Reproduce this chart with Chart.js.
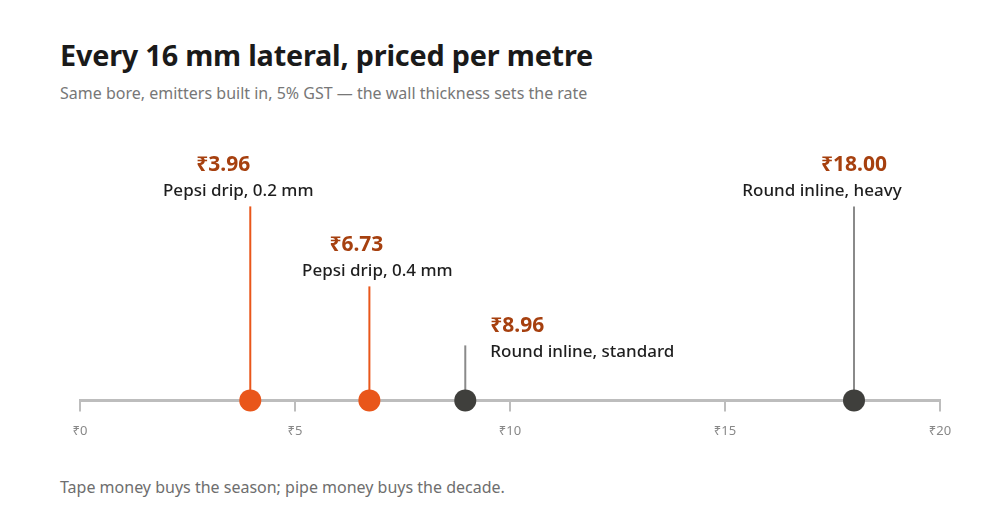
<!DOCTYPE html>
<html lang="en">
<head>
    <meta charset="UTF-8">
    <title>16 mm lateral prices</title>
    <script src="https://cdn.jsdelivr.net/npm/chart.js"></script>
    <style>
        html, body { margin: 0; padding: 0; background: #fff; }
        body {
            width: 1000px;
            height: 520px;
            position: relative;
            font-family: 'Noto Sans', 'DejaVu Sans', sans-serif;
            overflow: hidden;
        }
        h1 {
            position: absolute;
            left: 60px;
            top: 35px;
            margin: 0;
            font-size: 28.8px;
            font-weight: 700;
            color: #1a1a1a;
            letter-spacing: -0.2px;
        }
        .sub {
            position: absolute;
            left: 60px;
            top: 82px;
            margin: 0;
            font-size: 16px;
            color: #777;
        }
        .foot {
            position: absolute;
            left: 60px;
            top: 476px;
            margin: 0;
            font-size: 16px;
            color: #6e6e6e;
        }
        .chart-box {
            position: absolute;
            left: 0;
            top: 120px;
            width: 1000px;
            height: 331px;
        }
    </style>
</head>
<body>
    <h1>Every 16 mm lateral, priced per metre</h1>
    <p class="sub">Same bore, emitters built in, 5% GST — the wall thickness sets the rate</p>
    <div class="chart-box"><canvas id="chart"></canvas></div>
    <p class="foot">Tape money buys the season; pipe money buys the decade.</p>

    <script>
        // price per metre, rupees
        const products = ['Pepsi drip, 0.2 mm', 'Pepsi drip, 0.4 mm', 'Round inline, standard', 'Round inline, heavy'];
        const prices = [3.96, 6.73, 8.96, 18.00];
        const isTape = [true, true, false, false];
        const xTicks = [0, 5, 10, 15, 20];

        // label layout: stem height tier, label beside the stem or above it, and small nudges
        const tier = [3, 2, 1, 3];
        const beside = [false, false, true, false];
        const tierHeight = { 1: 55, 2: 114, 3: 194 };
        const priceNudge = [-27, -13, 0, 0];
        const nameNudge = [-12, 8, 0, -32];

        const ORANGE = '#e9561a';
        const DARK = '#3f3f3c';
        const PRICE_TXT = '#a6400f';

        const stemsAndLabels = {
            id: 'stemsAndLabels',
            beforeDatasetsDraw(chart) {
                const ctx = chart.ctx;
                const x = chart.scales.x, y = chart.scales.y;
                ctx.save();
                prices.forEach((p, i) => {
                    const px = x.getPixelForValue(p);
                    const base = y.getPixelForValue(0);
                    ctx.strokeStyle = isTape[i] ? ORANGE : '#8a8a8a';
                    ctx.lineWidth = 2;
                    ctx.beginPath();
                    ctx.moveTo(px, base);
                    ctx.lineTo(px, base - tierHeight[tier[i]]);
                    ctx.stroke();
                });
                ctx.restore();
            },
            afterDatasetsDraw(chart) {
                const ctx = chart.ctx;
                const x = chart.scales.x, y = chart.scales.y;
                ctx.save();
                ctx.textBaseline = 'middle';
                prices.forEach((p, i) => {
                    const px = x.getPixelForValue(p);
                    const top = y.getPixelForValue(0) - tierHeight[tier[i]];
                    let tx, nameY;
                    if (beside[i]) {
                        ctx.textAlign = 'left';
                        tx = px + 25;
                        nameY = top + 7;
                    } else {
                        ctx.textAlign = 'center';
                        tx = px;
                        nameY = top - 15;
                    }
                    ctx.fillStyle = PRICE_TXT;
                    ctx.font = "700 21px 'Noto Sans', 'DejaVu Sans', sans-serif";
                    ctx.fillText('₹' + p.toFixed(2), tx + priceNudge[i], nameY - 26);
                    ctx.fillStyle = '#1e1e1e';
                    ctx.font = "500 17px 'Noto Sans', 'DejaVu Sans', sans-serif";
                    ctx.fillText(products[i], tx + nameNudge[i], nameY);
                });
                ctx.restore();
            }
        };

        new Chart(document.getElementById('chart'), {
            type: 'scatter',
            data: {
                datasets: [{
                    data: prices.map(p => ({ x: p, y: 0 })),
                    backgroundColor: isTape.map(t => t ? ORANGE : DARK),
                    borderWidth: 0,
                    pointRadius: 11,
                    pointHoverRadius: 11,
                    clip: false
                }]
            },
            options: {
                responsive: true,
                maintainAspectRatio: false,
                animation: false,
                layout: { padding: { left: 80, right: 60, top: 0, bottom: 0 } },
                plugins: {
                    legend: { display: false },
                    tooltip: { enabled: false }
                },
                scales: {
                    x: {
                        type: 'linear',
                        min: 0,
                        max: 20,
                        afterBuildTicks: axis => { axis.ticks = xTicks.map(v => ({ value: v })); },
                        grid: {
                            drawOnChartArea: false,
                            drawTicks: true,
                            tickLength: 11,
                            color: '#bdbdbd',
                            lineWidth: 2
                        },
                        border: { color: '#bdbdbd', width: 3 },
                        ticks: {
                            padding: 12,
                            color: '#888',
                            font: { family: "'Noto Sans', 'DejaVu Sans', sans-serif", size: 13 },
                            callback: v => '₹' + v
                        }
                    },
                    y: {
                        display: false,
                        min: 0,
                        max: 1
                    }
                }
            },
            plugins: [stemsAndLabels]
        });
    </script>
</body>
</html>
